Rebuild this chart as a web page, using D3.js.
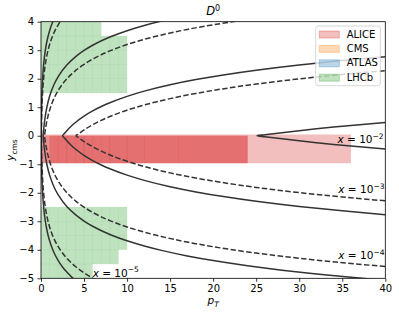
<!DOCTYPE html>
<html>
<head>
    <meta charset="utf-8">
    <script src="https://d3js.org/d3.v7.min.js"></script>
    <style>
        body { margin: 0; background: white; }
        text { font-family: "DejaVu Sans", sans-serif; }
    </style>
</head>
<body>
<div id="chart"></div>
<script>

    // ---- data ----
    let xTicks = [0, 5, 10, 15, 20, 25, 30, 35, 40];
    let yTicks = [-5, -4, -3, -2, -1, 0, 1, 2, 3, 4];

    // ALICE coverage: [ptLo, ptHi, yLo, yHi]
    let aliceWide = [[0, 36, -0.96, 0.04]];
    let aliceBinsA = [0, 1, 2, 3, 4, 5, 6, 7, 8, 10, 12, 16, 24];
    let aliceBinsB = [1, 2, 3, 4, 5, 6, 7, 8, 10, 12, 16, 24];
    let aliceBinY = [-0.96, 0];

    // LHCb coverage, pT bins of 1 GeV, rows: [yLo, yHi, ptMax]
    let lhcbPt = [0, 1, 2, 3, 4, 5, 6, 7, 8, 9, 10];
    let lhcbRows = [
        [1.5, 2.0, 10], [2.0, 2.5, 10], [2.5, 3.0, 10], [3.0, 3.5, 10], [3.5, 4.0, 7],
        [-3.0, -2.5, 10], [-3.5, -3.0, 10], [-4.0, -3.5, 10], [-4.5, -4.0, 9], [-5.0, -4.5, 6]
    ];

    // x contours, |y| vs pT (both signs drawn); solid = 5.02 TeV, dashed = 8.16 TeV
    let c2s_pt = [25.1, 26, 28, 30, 32, 34, 36, 38, 40];
    let c2s_y  = [0, 0.035, 0.109, 0.178, 0.243, 0.304, 0.361, 0.415, 0.466];

    let c3s_pt = [2.51, 2.75, 3, 3.5, 4, 5, 6, 7, 8, 10, 12, 15, 18, 21, 25, 30, 35, 40];
    let c3s_y  = [0, 0.091, 0.178, 0.333, 0.466, 0.689, 0.871, 1.026, 1.159, 1.382, 1.565, 1.788, 1.970, 2.124, 2.299, 2.481, 2.635, 2.769];
    let c3d_pt = [4.08, 4.3, 4.6, 5, 6, 7, 8, 10, 12, 15, 18, 21, 25, 30, 35, 40];
    let c3d_y  = [0, 0.053, 0.120, 0.203, 0.386, 0.540, 0.673, 0.896, 1.079, 1.302, 1.484, 1.638, 1.813, 1.995, 2.149, 2.283];

    let c4s_pt = [0.251, 0.3, 0.4, 0.5, 0.7, 1, 1.5, 2, 3, 4, 5, 6, 8, 10, 12, 14, 17, 20, 24, 28, 32, 36, 40];
    let c4s_y  = [0, 0.178, 0.466, 0.689, 1.026, 1.382, 1.788, 2.075, 2.481, 2.769, 2.992, 3.174, 3.462, 3.685, 3.867, 4.021, 4.216, 4.378, 4.560, 4.715, 4.848, 4.966, 5.071];
    let c4d_pt = [0.408, 0.45, 0.5, 0.6, 0.8, 1, 1.5, 2, 3, 4, 5, 6, 8, 10, 12, 14, 17, 20, 24, 28, 32, 36, 40];
    let c4d_y  = [0, 0.098, 0.203, 0.386, 0.673, 0.896, 1.302, 1.590, 1.995, 2.283, 2.506, 2.688, 2.976, 3.199, 3.381, 3.536, 3.730, 3.892, 4.075, 4.229, 4.362, 4.480, 4.585];

    let c5s_pt = [0.0251, 0.03, 0.04, 0.06, 0.1, 0.15, 0.25, 0.4, 0.6, 0.8, 1, 1.3, 1.6, 2, 2.5, 3, 3.6, 4];
    let c5s_y  = [0, 0.178, 0.466, 0.871, 1.382, 1.788, 2.299, 2.769, 3.174, 3.462, 3.685, 3.947, 4.155, 4.378, 4.601, 4.783, 4.966, 5.071];
    let c5d_pt = [0.0408, 0.05, 0.07, 0.1, 0.15, 0.25, 0.4, 0.6, 0.8, 1, 1.3, 1.6, 2, 2.5, 3, 3.5, 4, 4.5, 5, 5.5, 6, 6.5];
    let c5d_y  = [0, 0.203, 0.540, 0.896, 1.302, 1.813, 2.283, 2.688, 2.976, 3.199, 3.461, 3.669, 3.892, 4.115, 4.298, 4.452, 4.585, 4.703, 4.809, 4.904, 4.991, 5.071];

    let legendNames = ["ALICE", "CMS", "ATLAS", "LHCb"];
    let xLabelExp = ["−2", "−3", "−4", "−5"];

    // ---- layout ----
    let width = 399, height = 315;
    let pLeft = 41, pRight = 385.3, pTop = 21.7, pBottom = 278.3;
    let colors = { ALICE: "#d62728", CMS: "#ff7f0e", ATLAS: "#1f77b4", LHCb: "#2ca02c" };
    let lineColor = "#333333";

    let x = d3.scaleLinear().domain([0, 40]).range([pLeft, pRight]);
    let y = d3.scaleLinear().domain([-5, 4]).range([pBottom, pTop]);

    let svg = d3.select("#chart").append("svg")
        .attr("width", width)
        .attr("height", height);

    svg.append("defs").append("clipPath").attr("id", "plotclip")
        .append("rect")
        .attr("x", pLeft).attr("y", pTop)
        .attr("width", pRight - pLeft).attr("height", pBottom - pTop);

    let plot = svg.append("g").attr("clip-path", "url(#plotclip)");

    function drawRects(rects, color) {
        plot.append("g")
            .selectAll("rect")
            .data(rects)
            .join("rect")
                .attr("x", d => x(d[0]))
                .attr("y", d => y(d[3]))
                .attr("width", d => x(d[1]) - x(d[0]))
                .attr("height", d => y(d[2]) - y(d[3]))
                .attr("fill", color)
                .attr("fill-opacity", 0.3)
                .attr("stroke", color)
                .attr("stroke-opacity", 0.05)
                .attr("stroke-width", 0.6);
    }

    function binsToRects(edges, yr) {
        let out = [];
        for (let i = 0; i < edges.length - 1; i++) out.push([edges[i], edges[i + 1], yr[0], yr[1]]);
        return out;
    }

    drawRects(aliceWide, colors.ALICE);
    drawRects(binsToRects(aliceBinsA, aliceBinY), colors.ALICE);
    drawRects(binsToRects(aliceBinsB, aliceBinY), colors.ALICE);

    let lhcbRects = [];
    lhcbRows.forEach(r => {
        lhcbPt.slice(0, -1).forEach((p, i) => {
            if (lhcbPt[i + 1] <= r[2]) lhcbRects.push([p, lhcbPt[i + 1], r[0], r[1]]);
        });
    });
    drawRects(lhcbRects, colors.LHCb);

    // contours
    let curves = [
        { pt: c2s_pt, y: c2s_y, dash: null },
        { pt: c3s_pt, y: c3s_y, dash: null },
        { pt: c3d_pt, y: c3d_y, dash: "5.5,2.4" },
        { pt: c4s_pt, y: c4s_y, dash: null },
        { pt: c4d_pt, y: c4d_y, dash: "5.5,2.4" },
        { pt: c5s_pt, y: c5s_y, dash: null },
        { pt: c5d_pt, y: c5d_y, dash: "5.5,2.4" }
    ];

    let line = d3.line().x(d => x(d[0])).y(d => y(d[1])).curve(d3.curveMonotoneY);

    curves.forEach(c => {
        // one line from far end of lower branch, through the apex, out the upper branch
        let lower = c.pt.map((p, i) => [p, -c.y[i]]).reverse();
        let upper = c.pt.map((p, i) => [p, c.y[i]]).slice(1);
        plot.append("path")
            .attr("d", line(lower.concat(upper)))
            .attr("fill", "none")
            .attr("stroke", lineColor)
            .attr("stroke-width", 1.5)
            .attr("stroke-dasharray", c.dash);
    });

    // axes
    let xAxis = svg.append("g")
        .attr("transform", `translate(0,${pBottom})`)
        .call(d3.axisBottom(x).tickValues(xTicks).tickSize(3.5).tickPadding(3.5).tickFormat(d => d));
    let yAxis = svg.append("g")
        .attr("transform", `translate(${pLeft},0)`)
        .call(d3.axisLeft(y).tickValues(yTicks).tickSize(3.5).tickPadding(3.5)
            .tickFormat(d => d < 0 ? "−" + Math.abs(d) : d));

    [xAxis, yAxis].forEach(a => {
        a.select(".domain").remove();
        a.selectAll(".tick line").attr("stroke", "black").attr("stroke-width", 0.8);
        a.selectAll(".tick text").attr("font-size", "10px").attr("fill", "black")
            .attr("font-family", "DejaVu Sans");
    });

    svg.append("rect")
        .attr("x", pLeft).attr("y", pTop)
        .attr("width", pRight - pLeft).attr("height", pBottom - pTop)
        .attr("fill", "none")
        .attr("stroke", "black")
        .attr("stroke-width", 0.8);

    // curve labels
    let labelPos = [
        { pt: 39.8, y: -0.26, anchor: "end" },
        { pt: 39.9, y: -2.01, anchor: "end" },
        { pt: 39.9, y: -4.33, anchor: "end" },
        { pt: 6.0, y: -4.94, anchor: "start" }
    ];
    labelPos.forEach((p, i) => {
        let t = svg.append("text")
            .attr("x", x(p.pt))
            .attr("y", y(p.y))
            .attr("text-anchor", p.anchor)
            .attr("font-size", "10.5px")
            .attr("fill", "black");
        t.append("tspan").attr("font-style", "italic").text("x");
        t.append("tspan").text(" = 10");
        t.append("tspan").attr("font-size", "7.5px").attr("dy", -4.5).text(xLabelExp[i]);
    });

    // title
    let title = svg.append("text")
        .attr("x", (pLeft + pRight) / 2)
        .attr("y", 15)
        .attr("text-anchor", "middle")
        .attr("font-size", "11.5px");
    title.append("tspan").attr("font-style", "italic").text("D");
    title.append("tspan").attr("font-size", "8px").attr("dy", -4.5).text("0");

    // axis labels
    let xl = svg.append("text")
        .attr("x", (pLeft + pRight) / 2)
        .attr("y", 304)
        .attr("text-anchor", "middle")
        .attr("font-size", "10.5px");
    xl.append("tspan").attr("font-style", "italic").text("p");
    xl.append("tspan").attr("font-style", "italic").attr("font-size", "7.5px").attr("dy", 2.5).text("T");

    let yl = svg.append("text")
        .attr("transform", `translate(14,${(pTop + pBottom) / 2}) rotate(-90)`)
        .attr("text-anchor", "middle")
        .attr("font-size", "10.5px");
    yl.append("tspan").attr("font-style", "italic").text("y");
    yl.append("tspan").attr("font-size", "7.5px").attr("dy", 2.5).text("cms");

    // legend
    let lg = svg.append("g").attr("transform", "translate(315.7,26)");
    lg.append("rect")
        .attr("width", 64.6).attr("height", 59.7)
        .attr("rx", 2.5)
        .attr("fill", "white").attr("fill-opacity", 0.8)
        .attr("stroke", "#cccccc").attr("stroke-width", 0.8);
    legendNames.forEach((n, i) => {
        let row = lg.append("g").attr("transform", `translate(0,${8 + i * 14.4})`);
        row.append("rect")
            .attr("x", 3.6).attr("y", -3)
            .attr("width", 20).attr("height", 7)
            .attr("fill", colors[n]).attr("fill-opacity", 0.3)
            .attr("stroke", colors[n]).attr("stroke-opacity", 0.3);
        row.append("text")
            .attr("x", 31).attr("y", 3.6)
            .attr("font-size", "10px")
            .text(n);
    });
</script>
</body>
</html>
